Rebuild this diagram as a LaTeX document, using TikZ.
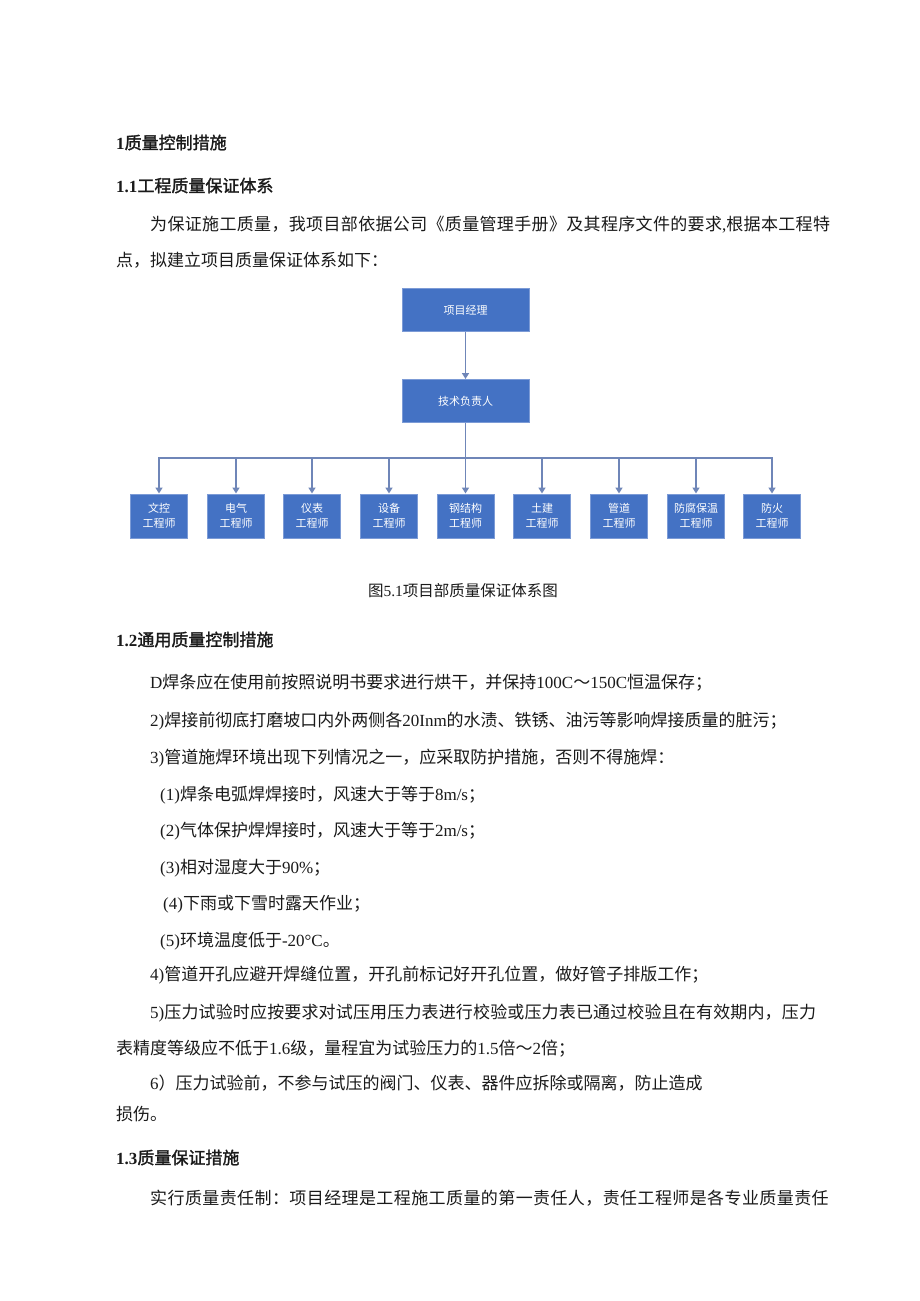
\documentclass[tikz,border=0pt]{standalone}
\usepackage{fontspec}
\usetikzlibrary{arrows.meta}
\newfontfamily\cjk{Noto Sans CJK SC}
\newfontfamily\cjkb[FakeBold=1.6]{Noto Sans CJK SC}
\newfontfamily\tnr{Liberation Serif}
\newcommand\lat[1]{{\tnr #1}}
\newcommand\latb[1]{{\tnr\bfseries #1}}
\definecolor{boxfill}{HTML}{4472C4}
\definecolor{boxedge}{HTML}{7C9BD6}
\definecolor{conn}{HTML}{6F86B8}
\definecolor{ink}{HTML}{1A1A1A}
\tikzset{
  txt/.style={anchor=base west, inner sep=0, text=ink, font=\cjk\fontsize{17}{20}\selectfont},
  head/.style={anchor=base west, inner sep=0, text=ink, font=\cjkb\fontsize{17}{20}\selectfont},
  bigbox/.style={draw=boxedge, line width=1pt, fill=boxfill, text=white, font=\cjk\fontsize{11}{14}\selectfont, minimum width=127pt, minimum height=43pt, inner sep=0},
  smallbox/.style={draw=boxedge, line width=1pt, fill=boxfill, text=white, font=\cjk\fontsize{11}{15}\selectfont, minimum width=57pt, minimum height=44pt, inner sep=0, align=center},
  link/.style={draw=conn, line width=1.5pt},
  arr/.style={draw=conn, line width=1.5pt, -{Triangle[width=7pt,length=6pt]}}
}
\begin{document}
\begin{tikzpicture}[x=1pt,y=-1pt]
\useasboundingbox[fill=white] (0,0) rectangle (920,1301);

\node[head] (h1) at (116,149) {\latb{1}质量控制措施};
\node[head] (h11) at (116,192) {\latb{1.1}工程质量保证体系};
\node[txt] (p1) at (150,230) {\addfontfeature{LetterSpace=2}为保证施工质量，我项目部依据公司《质量管理手册》及其程序文件的要求\lat{,}根据本工程特};
\node[txt] (p2) at (116,266) {点，拟建立项目质量保证体系如下：};

% diagram
\node[bigbox] (pm) at (465.5,310) {项目经理};
\node[bigbox] (tech) at (465.5,401) {技术负责人};
\draw[arr] (pm) -- (tech);
\coordinate (bus) at (465.5,458);
\draw[link] (tech.south) -- (bus);
\foreach \x/\nm/\t in {159/b1/文控, 236/b2/电气, 312/b3/仪表, 389/b4/设备, 465.5/b5/钢结构, 542/b6/土建, 619/b7/管道, 696/b8/防腐保温, 772/b9/防火}{
  \node[smallbox] (\nm) at (\x,516) {\t\\工程师};
  \draw[arr] (bus) -| (\nm.north);
}

\node[anchor=base, inner sep=0, text=ink, font=\cjk\fontsize{15.5}{18}\selectfont] (cap) at (463,596) {图\lat{5.1}项目部质量保证体系图};

\node[head] (h12) at (116,646) {\latb{1.2}通用质量控制措施};
\node[txt] (l1) at (150,688) {\lat{D}焊条应在使用前按照说明书要求进行烘干，并保持\lat{100C}～\lat{150C}恒温保存；};
\node[txt] (l2) at (150,726) {\lat{2)}焊接前彻底打磨坡口内外两侧各\lat{20Inm}的水渍、铁锈、油污等影响焊接质量的脏污；};
\node[txt] (l3) at (150,763) {\lat{3)}管道施焊环境出现下列情况之一，应采取防护措施，否则不得施焊：};
\node[txt] (l4) at (160,800) {\lat{(1)}焊条电弧焊焊接时，风速大于等于\lat{8m/s}；};
\node[txt] (l5) at (160,836) {\lat{(2)}气体保护焊焊接时，风速大于等于\lat{2m/s}；};
\node[txt] (l6) at (160,873) {\lat{(3)}相对湿度大于\lat{90\%}；};
\node[txt] (l7) at (163,909) {\lat{(4)}下雨或下雪时露天作业；};
\node[txt] (l8) at (160,946) {\lat{(5)}环境温度低于\lat{-20°C}。};
\node[txt] (l9) at (150,980) {\lat{4)}管道开孔应避开焊缝位置，开孔前标记好开孔位置，做好管子排版工作；};
\node[txt] (l10) at (150,1018) {\addfontfeature{LetterSpace=0.9}\lat{5)}压力试验时应按要求对试压用压力表进行校验或压力表已通过校验且在有效期内，压力};
\node[txt] (l11) at (116,1054) {表精度等级应不低于\lat{1.6}级，量程宜为试验压力的\lat{1.5}倍～\lat{2}倍；};
\node[txt] (l12) at (150,1089) {\lat{6}）压力试验前，不参与试压的阀门、仪表、器件应拆除或隔离，防止造成};
\node[txt] (l13) at (116,1120) {损伤。};
\node[head] (h13) at (116,1164) {\latb{1.3}质量保证措施};
\node[txt] (l14) at (150,1204) {\addfontfeature{LetterSpace=2.4}实行质量责任制：项目经理是工程施工质量的第一责任人，责任工程师是各专业质量责任};
\end{tikzpicture}
\end{document}
